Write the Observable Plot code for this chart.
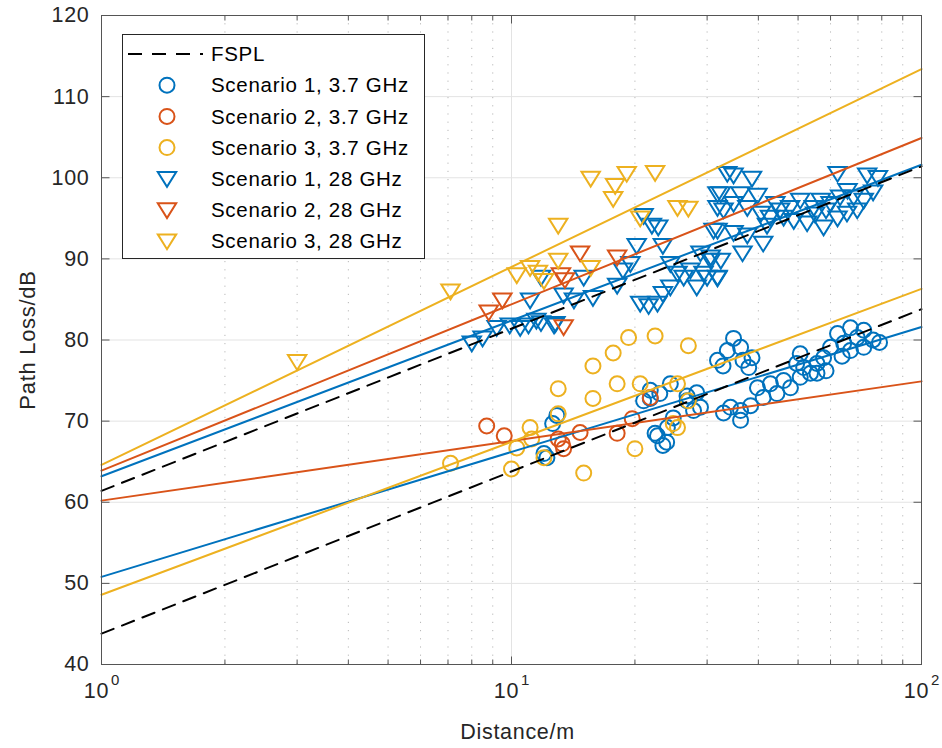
<!DOCTYPE html>
<html><head><meta charset="utf-8">
<script src="https://cdn.jsdelivr.net/npm/d3@7"></script>
<script src="https://cdn.jsdelivr.net/npm/@observablehq/plot@0.6"></script>
<style>
body{margin:0;background:#fff;}
#chart{position:relative;width:942px;height:748px;}
#chart svg text{letter-spacing:0.7px;}
#chart svg text.sup{letter-spacing:0;}
</style>
</head><body><div id="chart"></div>
<script>
// ---- axis ticks ----
const xTicks = [1, 10, 100];
const xMinor = [2,3,4,5,6,7,8,9,20,30,40,50,60,70,80,90];
const yTicks = [40,50,60,70,80,90,100,110,120];

// ---- legend labels ----
const seriesNames = ["Scenario 1, 3.7 GHz","Scenario 2, 3.7 GHz","Scenario 3, 3.7 GHz",
                     "Scenario 1, 28 GHz","Scenario 2, 28 GHz","Scenario 3, 28 GHz"];

// ---- fitted / reference lines: distance endpoints and path loss ----
const lineDist = [1, 100];
const fspl37 = [43.8, 83.8];
const fspl28 = [61.4, 101.4];
const fitS1_37 = [50.8, 81.6];
const fitS2_37 = [60.2, 74.9];
const fitS3_37 = [48.6, 86.3];
const fitS1_28 = [63.2, 101.6];
const fitS2_28 = [63.9, 104.9];
const fitS3_28 = [64.6, 113.4];

// ---- measurements [distance m, path loss dB] ----
const s1_37 = [[12.0,66.0],[12.2,65.5],[12.6,69.7],[12.9,70.7],[21.0,72.5],[21.8,73.8],[23.0,73.4],[24.4,74.6],
 [22.7,68.2],[23.4,67.0],[24.0,69.2],[24.8,70.4],[26.8,73.1],[28.3,73.5],[28.9,71.7],[26.8,72.5],[27.8,71.3],
 [21.8,72.8],[22.4,68.5],[23.9,67.4],
 [34.8,80.2],[33.6,78.7],[31.8,77.5],[32.8,76.8],[36.2,79.1],[36.7,77.5],[38.6,77.8],[37.9,76.6],
 [34.2,71.7],[36.2,71.3],[32.9,71.0],[36.2,70.1],[38.3,71.9],[39.8,74.1],[41.1,72.9],[42.8,74.6],
 [44.4,73.4],[46.1,75.0],[47.9,74.1],[50.6,78.3],[51.6,76.6],[53.6,75.9],[55.6,77.1],[57.7,77.8],
 [55.6,75.9],[60.0,79.1],[62.4,80.8],[64.6,79.6],[67.1,81.5],[69.7,80.3],[72.3,81.2],[72.3,79.1],
 [76.2,80.0],[67.1,78.7],[50.6,75.4],[49.6,77.1],[79.0,79.7],[58.5,76.2],[64.0,78.0]];
const s2_37 = [[8.7,69.4],[9.6,68.2],[13.0,67.8],[13.3,67.2],[13.4,66.6],[14.7,68.6],[18.1,68.5],[19.7,70.3],[21.8,72.9]];
const s3_37 = [[7.1,64.8],[10.0,64.1],[10.3,66.7],[11.1,69.2],[11.2,67.8],[12.0,65.5],[13.0,74.0],[13.0,70.9],
 [15.0,63.6],[15.8,76.8],[15.8,72.8],[17.7,78.4],[18.1,74.6],[19.3,80.3],[20.0,66.6],[20.6,74.6],
 [22.4,80.5],[25.4,74.6],[27.0,72.5],[27.0,79.3],[24.8,69.7],[25.4,69.2]];
const s1_28 = [[8.0,79.6],[8.5,80.2],[9.2,81.5],[9.9,81.8],[10.5,81.5],[11.0,81.8],[11.8,82.1],[12.7,81.8],
 [11.5,82.4],[12.8,82.0],[11.1,84.9],[11.8,87.7],[13.4,85.5],[14.2,84.9],[15.0,87.7],[15.8,85.2],
 [18.1,86.7],[18.7,88.6],[19.5,89.4],[20.2,91.6],[21.0,95.3],[22.0,94.1],[22.8,93.9],[23.4,91.6],
 [20.6,84.5],[21.6,84.2],[22.7,84.5],[24.4,89.4],[25.4,88.2],[26.3,87.7],[27.3,88.6],[28.3,86.5],
 [29.4,88.2],[23.4,85.7],[24.4,86.5],[30.6,89.8],[31.8,87.7],[31.8,93.5],[32.9,96.0],[33.6,100.5],
 [31.8,98.0],[34.8,100.3],[38.6,99.9],[32.4,98.0],[36.2,98.0],[39.8,97.8],[31.8,96.3],[34.8,96.8],
 [37.6,96.3],[31.1,93.5],[34.8,93.2],[37.6,92.9],[28.9,90.7],[30.6,90.2],[32.4,89.8],[36.6,90.7],
 [41.1,91.9],[30.0,87.7],[31.8,87.6],[40.6,95.6],[42.7,95.1],[45.2,96.0],[42.0,94.1],[47.8,96.3],
 [50.6,97.2],[52.6,94.4],[54.6,96.3],[57.7,93.9],[56.8,97.2],[60.0,96.8],[62.4,100.5],[63.3,97.6],
 [65.8,95.6],[68.3,97.6],[72.3,97.2],[73.7,100.3],[78.3,100.0],[76.2,98.2],[69.7,96.0],[48.8,94.7],
 [46.1,95.1],[62.4,95.0],[44.0,96.8],[55.0,95.5],[66.0,98.4],[58.5,96.0]];
const s2_28 = [[8.8,83.4],[9.5,84.9],[13.2,88.0],[13.5,87.4],[14.7,90.7],[18.1,90.2],[13.4,81.6]];
const s3_28 = [[3.0,77.3],[7.1,86.0],[10.3,88.0],[11.1,88.9],[11.6,88.3],[12.0,87.3],[13.0,89.8],[13.0,94.1],
 [15.6,88.9],[15.6,99.9],[17.9,99.0],[17.7,97.4],[19.1,100.5],[22.4,100.6],[20.6,95.0],[25.4,96.3],[27.0,96.2]];

const C1 = "#0072BD", C2 = "#D95319", C3 = "#EDB120";
const FONT = "Liberation Sans, Arial, Helvetica, sans-serif";
const FS = 21.5;

const triDown = {draw(ctx, size){ const r = Math.sqrt(size/Math.PI); const w=r*1.15, t=r*0.85, b=r*1.0;
  ctx.moveTo(-w,-t); ctx.lineTo(w,-t); ctx.lineTo(0,b); ctx.closePath(); }};
const tickR = (L)=>({draw(ctx){ctx.moveTo(0,0);ctx.lineTo(L,0);}});
const tickL = (L)=>({draw(ctx){ctx.moveTo(0,0);ctx.lineTo(-L,0);}});
const tickD = (L)=>({draw(ctx){ctx.moveTo(0,0);ctx.lineTo(0,L);}});
const tickU = (L)=>({draw(ctx){ctx.moveTo(0,0);ctx.lineTo(0,-L);}});

const pts = (arr)=>arr.map(([d,pl])=>({d,pl}));
const ln = (vals)=>lineDist.map((d,i)=>({d, pl: vals[i]}));

const circ = (arr, c)=>Plot.dot(pts(arr), {x:"d", y:"pl", r:7.5, stroke:c, strokeWidth:2, fill:"none"});
const tri = (arr, c)=>Plot.dot(pts(arr), {x:"d", y:"pl", r:8, symbol:triDown, stroke:c, strokeWidth:2, fill:"none"});
const line = (vals, c, dash)=>Plot.line(ln(vals), {x:"d", y:"pl", stroke:c, strokeWidth:2, strokeDasharray:dash});

const svg = Plot.plot({
  width: 942, height: 748,
  marginLeft: 101, marginRight: 21, marginTop: 15, marginBottom: 84,
  style: {fontFamily: FONT, background: "#fff"},
  x: {type: "log", domain: [1, 100], axis: null},
  y: {domain: [40, 120], axis: null},
  marks: [
    Plot.ruleY(yTicks, {y: d=>d, stroke: "#e3e3e3", strokeWidth: 1}),
    Plot.ruleX(xTicks, {x: d=>d, stroke: "#e3e3e3", strokeWidth: 1}),
    Plot.ruleX(xMinor, {x: d=>d, stroke: "#b8b8b8", strokeWidth: 1, strokeDasharray: "1.2,7"}),
    circ(s1_37, C1), circ(s2_37, C2), circ(s3_37, C3),
    tri(s1_28, C1), tri(s2_28, C2), tri(s3_28, C3),
    line(fitS1_37, C1), line(fitS2_37, C2), line(fitS3_37, C3),
    line(fitS1_28, C1), line(fitS2_28, C2), line(fitS3_28, C3),
    line(fspl37, "#000", "13,9"), line(fspl28, "#000", "13,9"),
    Plot.frame({stroke: "#555", strokeWidth: 1}),
    Plot.dot(yTicks, {y: d=>d, frameAnchor: "left", symbol: tickR(8), stroke: "#555", strokeWidth: 1}),
    Plot.dot(yTicks, {y: d=>d, frameAnchor: "right", symbol: tickL(8), stroke: "#555", strokeWidth: 1}),
    Plot.dot(xTicks, {x: d=>d, frameAnchor: "bottom", symbol: tickU(8), stroke: "#555", strokeWidth: 1}),
    Plot.dot(xTicks, {x: d=>d, frameAnchor: "top", symbol: tickD(8), stroke: "#555", strokeWidth: 1}),
    Plot.dot(xMinor, {x: d=>d, frameAnchor: "bottom", symbol: tickU(5), stroke: "#555", strokeWidth: 1}),
    Plot.dot(xMinor, {x: d=>d, frameAnchor: "top", symbol: tickD(5), stroke: "#555", strokeWidth: 1}),
    Plot.text(yTicks, {y: d=>d, text: d=>String(d), frameAnchor: "left", dx: -12, textAnchor: "end",
      fontSize: FS, fill: "#262626"}),
    Plot.text(xTicks, {x: d=>d, text: ()=>"10", frameAnchor: "bottom", lineAnchor: "middle", dy: 27, dx: -5,
      fontSize: FS, fill: "#262626"}),
    Plot.text(xTicks, {x: d=>d, text: d=>String(Math.round(Math.log10(d))), frameAnchor: "bottom", lineAnchor: "middle",
      dy: 16, dx: 14, fontSize: 15, fill: "#262626", className: "sup"}),
    Plot.text(["Distance/m"], {frameAnchor: "bottom", lineAnchor: "middle", textAnchor: "middle", dy: 68, dx: 6,
      fontSize: FS, fill: "#262626"}),
    Plot.text(["Path Loss/dB"], {frameAnchor: "left", textAnchor: "middle", dx: -74, rotate: -90,
      fontSize: 22, fill: "#262626"})
  ]
});

// ---- legend (pixel layout inside the axes) ----
const g = d3.select(svg).append("g").attr("font-family", FONT).attr("font-size", 20.5)
  .attr("text-anchor", "start").attr("letter-spacing", "0.8px");
g.append("rect").attr("x", 122.5).attr("y", 34.5).attr("width", 302).attr("height", 224)
  .attr("fill", "#fff").attr("stroke", "#262626").attr("stroke-width", 1);
const rowY = i => 54 + i*31.2;
g.append("line").attr("x1", 128).attr("x2", 203).attr("y1", rowY(0)).attr("y2", rowY(0))
  .attr("stroke", "#000").attr("stroke-width", 2).attr("stroke-dasharray", "14,10");
g.append("text").attr("x", 211).attr("y", rowY(0)).attr("dy", "0.35em").attr("fill", "#000").text("FSPL");
const cols = [C1, C2, C3, C1, C2, C3];
seriesNames.forEach((name, i) => {
  const y = rowY(i+1), x = 167;
  if (i < 3) {
    g.append("circle").attr("cx", x).attr("cy", y).attr("r", 7.5).attr("fill", "none")
      .attr("stroke", cols[i]).attr("stroke-width", 2);
  } else {
    g.append("path").attr("d", `M${x-9.2},${y-6.8}L${x+9.2},${y-6.8}L${x},${y+8}Z`).attr("fill", "none")
      .attr("stroke", cols[i]).attr("stroke-width", 2);
  }
  g.append("text").attr("x", 211).attr("y", y).attr("dy", "0.35em").attr("fill", "#000").text(name);
});

document.getElementById("chart").appendChild(svg);
</script>
</body></html>
